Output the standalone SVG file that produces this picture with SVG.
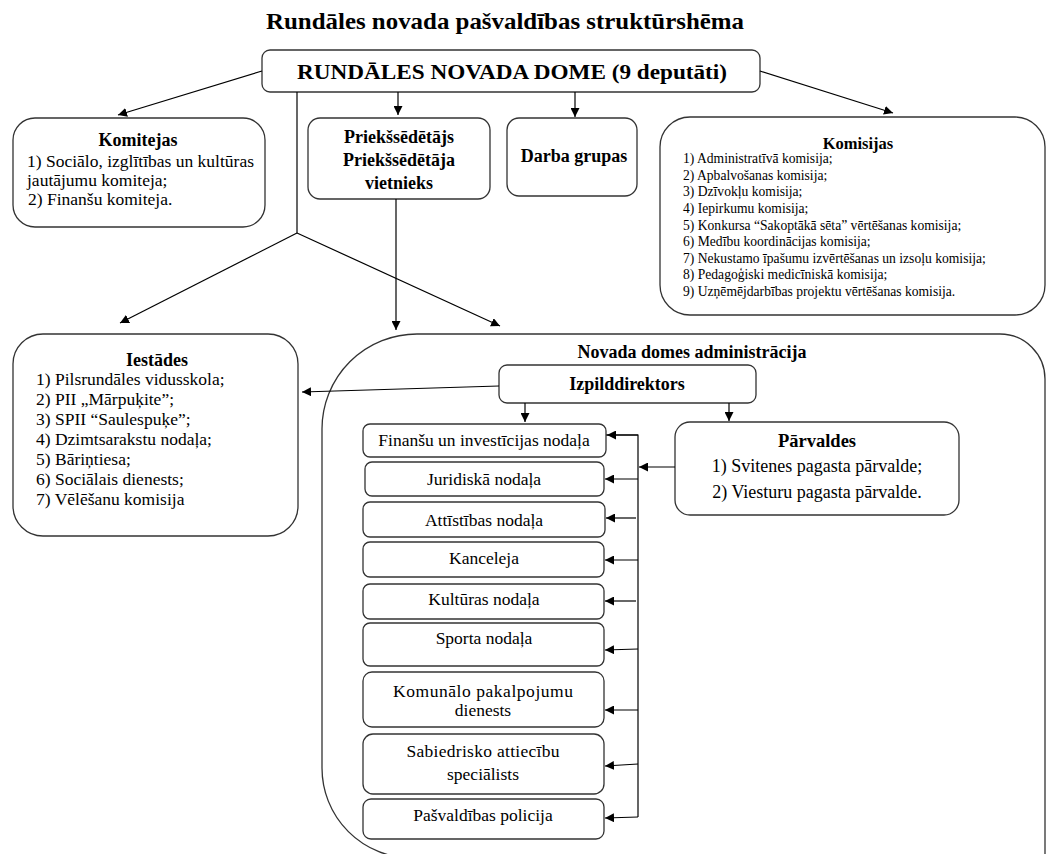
<svg xmlns="http://www.w3.org/2000/svg" width="1049" height="854" viewBox="0 0 1049 854">
<defs>
<style>
.b{fill:#fff;stroke:#333;stroke-width:1.3}
.t{font-family:"Liberation Serif","Times New Roman",serif;font-size:17.5px;fill:#000}
.tb{font-family:"Liberation Serif","Times New Roman",serif;font-size:18px;font-weight:bold;fill:#000}
.s{font-family:"Liberation Serif","Times New Roman",serif;font-size:13.6px;fill:#000}
.c{text-anchor:middle}
.l{fill:none;stroke:#000;stroke-width:1.2}
</style>
<marker id="a" viewBox="0 0 10 10" refX="10" refY="5" markerWidth="9" markerHeight="9" markerUnits="userSpaceOnUse" orient="auto"><path d="M0,0 L10,5 L0,10 z" fill="#000"/></marker>
</defs>
<rect width="1049" height="854" fill="#fff"/>
<text x="505" y="29" class="tb c" style="font-size:23px" textLength="478" lengthAdjust="spacingAndGlyphs">Rundāles novada pašvaldības struktūrshēma</text>

<g id="admin">
<path class="b" d="M417,334 H1000 A45,45 0 0 1 1045,379 V858 H412 A90,90 0 0 1 322,768 V429 A95,95 0 0 1 417,334 Z"/>
<text x="692" y="358" class="tb c">Novada domes administrācija</text>
</g>

<g id="dome">
<rect class="b" x="262" y="50" width="498" height="42" rx="8"/>
<text x="512" y="79" class="tb c" style="font-size:20px" textLength="430" lengthAdjust="spacingAndGlyphs">RUNDĀLES NOVADA DOME (9 deputāti)</text>
</g>

<g id="komitejas">
<rect class="b" x="13" y="118" width="252" height="109" rx="22"/>
<text x="138" y="146" class="tb c">Komitejas</text>
<text x="27" y="167" class="t"> 1) Sociālo, izglītības un kultūras</text>
<text x="27" y="186" class="t">jautājumu komiteja;</text>
<text x="28" y="205" class="t">2) Finanšu komiteja.</text>
</g>

<g id="priekssedetajs">
<rect class="b" x="308" y="118" width="182" height="81" rx="12"/>
<text x="399" y="143" class="tb c">Priekšsēdētājs</text>
<text x="399" y="166" class="tb c">Priekšsēdētāja</text>
<text x="399" y="189" class="tb c">vietnieks</text>
</g>

<g id="darba">
<rect class="b" x="507" y="118" width="130" height="78" rx="12"/>
<text x="574" y="162" class="tb c">Darba grupas</text>
</g>

<g id="komisijas">
<rect class="b" x="660" y="117" width="385" height="198" rx="30"/>
<text x="858" y="149" class="tb c" style="font-size:16.5px">Komisijas</text>
<text x="683" y="163" class="s">1) Administratīvā komisija;</text>
<text x="683" y="180" class="s">2) Apbalvošanas komisija;</text>
<text x="683" y="196" class="s">3) Dzīvokļu komisija;</text>
<text x="683" y="213" class="s">4) Iepirkumu komisija;</text>
<text x="683" y="230" class="s">5) Konkursa “Sakoptākā sēta” vērtēšanas komisija;</text>
<text x="683" y="246" class="s">6) Medību koordinācijas komisija;</text>
<text x="683" y="263" class="s">7) Nekustamo īpašumu izvērtēšanas un izsoļu komisija;</text>
<text x="683" y="279" class="s">8) Pedagoģiski medicīniskā komisija;</text>
<text x="683" y="296" class="s">9) Uzņēmējdarbības projektu vērtēšanas komisija.</text>
</g>

<g id="iestades">
<rect class="b" x="13" y="334" width="285" height="202" rx="30"/>
<text x="157" y="366" class="tb c">Iestādes</text>
<text x="36" y="385" class="t">1) Pilsrundāles vidusskola;</text>
<text x="36" y="405" class="t">2) PII „Mārpuķite”;</text>
<text x="36" y="425" class="t">3) SPII “Saulespuķe”;</text>
<text x="36" y="445" class="t">4) Dzimtsarakstu nodaļa;</text>
<text x="36" y="465" class="t">5) Bāriņtiesa;</text>
<text x="36" y="485" class="t">6) Sociālais dienests;</text>
<text x="36" y="505" class="t">7) Vēlēšanu komisija</text>
</g>

<g id="izpilddirektors">
<rect class="b" x="499" y="365" width="257" height="38" rx="8"/>
<text x="627" y="390" class="tb c">Izpilddirektors</text>
</g>

<g id="parvaldes">
<rect class="b" x="675" y="422" width="284" height="93" rx="15"/>
<text x="817" y="447" class="tb c" style="font-size:18.5px">Pārvaldes</text>
<text x="817" y="472" class="t c" style="font-size:18px">1) Svitenes pagasta pārvalde;</text>
<text x="817" y="498" class="t c" style="font-size:18px">2) Viesturu pagasta pārvalde.</text>
</g>

<g id="finansu"><rect class="b" x="363" y="424" width="243" height="33" rx="7"/><text x="484" y="446" class="t c">Finanšu un investīcijas nodaļa</text></g>
<g id="juridiska"><rect class="b" x="365" y="462" width="239" height="34" rx="7"/><text x="484" y="485" class="t c">Juridiskā nodaļa</text></g>
<g id="attistibas"><rect class="b" x="363" y="502" width="242" height="35" rx="7"/><text x="484" y="526" class="t c">Attīstības nodaļa</text></g>
<g id="kanceleja"><rect class="b" x="363" y="542" width="241" height="35" rx="7"/><text x="484" y="564" class="t c">Kanceleja</text></g>
<g id="kulturas"><rect class="b" x="363" y="584" width="241" height="35" rx="7"/><text x="484" y="605" class="t c">Kultūras nodaļa</text></g>
<g id="sporta"><rect class="b" x="363" y="623" width="241" height="43" rx="7"/><text x="484" y="644" class="t c">Sporta nodaļa</text></g>
<g id="komunalo"><rect class="b" x="363" y="672" width="241" height="55" rx="9"/><text x="483" y="697" class="t c" textLength="180" lengthAdjust="spacing">Komunālo pakalpojumu</text><text x="483" y="716" class="t c">dienests</text></g>
<g id="sabiedrisko"><rect class="b" x="363" y="734" width="241" height="60" rx="10"/><text x="483" y="757" class="t c" textLength="153" lengthAdjust="spacing">Sabiedrisko attiecību</text><text x="483" y="780" class="t c">speciālists</text></g>
<g id="policija"><rect class="b" x="363" y="799" width="241" height="40" rx="8"/><text x="483" y="821" class="t c">Pašvaldības policija</text></g>

<g id="connectors">
<line class="l" x1="262" y1="71" x2="118" y2="115" marker-end="url(#a)"/>
<line class="l" x1="760" y1="71" x2="893" y2="113" marker-end="url(#a)"/>
<line class="l" x1="398" y1="92" x2="398" y2="115" marker-end="url(#a)"/>
<line class="l" x1="575" y1="92" x2="575" y2="117" marker-end="url(#a)"/>
<polyline class="l" points="297,92 297,233"/>
<line class="l" x1="297" y1="233" x2="120" y2="323" marker-end="url(#a)"/>
<line class="l" x1="297" y1="233" x2="500" y2="326" marker-end="url(#a)"/>
<line class="l" x1="396" y1="199" x2="396" y2="330" marker-end="url(#a)"/>
<line class="l" x1="499" y1="386" x2="302" y2="392" marker-end="url(#a)"/>
<line class="l" x1="525" y1="403" x2="525" y2="422" marker-end="url(#a)"/>
<line class="l" x1="729" y1="403" x2="729" y2="421" marker-end="url(#a)"/>
<polyline class="l" points="606,435 638,435 638,817"/>
<line class="l" x1="638" y1="435" x2="607" y2="435" marker-end="url(#a)"/>
<line class="l" x1="675" y1="467" x2="639" y2="467" marker-end="url(#a)"/>
<line class="l" x1="638" y1="479" x2="605" y2="479" marker-end="url(#a)"/>
<line class="l" x1="636" y1="518" x2="606" y2="518" marker-end="url(#a)"/>
<line class="l" x1="638" y1="560" x2="605" y2="560" marker-end="url(#a)"/>
<line class="l" x1="636" y1="601" x2="605" y2="601" marker-end="url(#a)"/>
<line class="l" x1="638" y1="649" x2="605" y2="650" marker-end="url(#a)"/>
<line class="l" x1="638" y1="710" x2="605" y2="710" marker-end="url(#a)"/>
<line class="l" x1="638" y1="764" x2="605" y2="766" marker-end="url(#a)"/>
<line class="l" x1="638" y1="817" x2="605" y2="818" marker-end="url(#a)"/>
</g>
</svg>
